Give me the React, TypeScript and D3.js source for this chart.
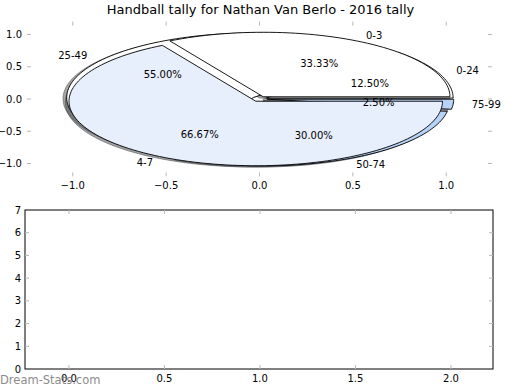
import React from "react";
import * as d3 from "d3";

// outer pie (score bands) and inner pie (goal bands)
const bandLabels = ["0-24", "25-49", "50-74", "75-99"];
const bandCounts = [5, 22, 12, 1];
const bandColors = ["#ffffff", "#ffffff", "#b7d3f7", "#b7d3f7"];

const goalLabels = ["0-3", "4-7"];
const goalCounts = [1, 2];
const goalColors = ["#ffffff", "#e8effc"];

const pieTicks = [-1.0, -0.5, 0.0, 0.5, 1.0];
const barXTicks = [0.0, 0.5, 1.0, 1.5, 2.0];
const barYTicks = [0, 1, 2, 3, 4, 5, 6, 7];

const W = 520;
const H = 390;
const FONT = "DejaVu Sans, sans-serif";
const EXPLODE = 0.04;
const TICK = "#b8b8b8";

const px = d3.scaleLinear().domain([-1.245, 1.245]).range([27, 492]);
const py = d3.scaleLinear().domain([-1.2, 1.2]).range([176.4, 21.6]);

const bx = d3.scaleLinear().domain([-0.23, 2.22]).range([25, 493]);
const by = d3.scaleLinear().domain([0, 7]).range([369, 210]);

const line = d3
  .line<[number, number]>()
  .x((d) => px(d[0]))
  .y((d) => py(d[1]));

type Slice = {
  label: string;
  color: string;
  a0: number;
  a1: number;
  cx: number;
  cy: number;
  pct: number;
};

function layout(labels: string[], counts: number[], colors: string[]): Slice[] {
  // d3.pie angles read here as counter-clockwise from +x, like matplotlib
  const total = d3.sum(counts);
  const arcs = d3
    .pie<number>()
    .sort(null)
    .startAngle(0)
    .endAngle(2 * Math.PI)(counts);
  return arcs.map((a, i) => {
    const mid = (a.startAngle + a.endAngle) / 2;
    return {
      label: labels[i],
      color: colors[i],
      a0: a.startAngle,
      a1: a.endAngle,
      cx: EXPLODE * Math.cos(mid),
      cy: EXPLODE * Math.sin(mid),
      pct: (counts[i] / total) * 100,
    };
  });
}

function wedgePath(s: Slice, ox = 0, oy = 0) {
  const n = Math.max(8, Math.ceil(((s.a1 - s.a0) / (2 * Math.PI)) * 180));
  const pts: [number, number][] = [[s.cx + ox, s.cy + oy]];
  for (let i = 0; i <= n; i++) {
    const t = s.a0 + ((s.a1 - s.a0) * i) / n;
    pts.push([s.cx + ox + Math.cos(t), s.cy + oy + Math.sin(t)]);
  }
  return line(pts) + "Z";
}

function shade(c: string) {
  const rgb = d3.rgb(c);
  return d3.rgb(rgb.r * 0.3, rgb.g * 0.3, rgb.b * 0.3).formatHex();
}

export default function App() {
  const outer = layout(bandLabels, bandCounts, bandColors);
  const inner = layout(goalLabels, goalCounts, goalColors);
  const all = [...outer, ...inner];

  return (
    <svg
      width={W}
      height={H}
      style={{ position: "absolute", left: 0, top: 0, background: "#fff" }}
      fontFamily={FONT}
    >
      <text x={260.5} y={14} fontSize={13} textAnchor="middle">
        Handball tally for Nathan Van Berlo - 2016 tally
      </text>

      {/* top axes ticks (no frame) */}
      {pieTicks.map((t) => (
        <g key={"px" + t}>
          <line x1={px(t)} x2={px(t)} y1={176.4} y2={172.4} stroke={TICK} />
          <line x1={px(t)} x2={px(t)} y1={21.6} y2={25.6} stroke={TICK} />
          <text x={px(t)} y={185} dy="0.35em" fontSize={10} textAnchor="middle">
            {d3.format(".1f")(t).replace("-", "\u2212")}
          </text>
        </g>
      ))}
      {pieTicks.map((t) => (
        <g key={"py" + t}>
          <line x1={27} x2={31} y1={py(t)} y2={py(t)} stroke={TICK} />
          <line x1={492} x2={488} y1={py(t)} y2={py(t)} stroke={TICK} />
          <text x={22} y={py(t)} dy="0.35em" fontSize={10} textAnchor="end">
            {d3.format(".1f")(t).replace("-", "\u2212")}
          </text>
        </g>
      ))}

      {/* shadows under every wedge */}
      {all.map((s, i) => (
        <path
          key={"sh" + i}
          d={wedgePath(s, -0.02, -0.02)}
          fill={shade(s.color)}
          stroke={shade(s.color)}
          fillOpacity={0.5}
          strokeOpacity={0.5}
        />
      ))}
      {all.map((s, i) => (
        <path key={"w" + i} d={wedgePath(s)} fill={s.color} stroke="#000" strokeWidth={0.9} />
      ))}

      {all.map((s, i) => {
        const mid = (s.a0 + s.a1) / 2;
        const lx = s.cx + 1.1 * Math.cos(mid);
        const ly = s.cy + 1.1 * Math.sin(mid);
        const tx = s.cx + 0.6 * Math.cos(mid);
        const ty = s.cy + 0.6 * Math.sin(mid);
        return (
          <g key={"t" + i} fontSize={10}>
            <text x={px(lx)} y={py(ly)} dy="0.35em" textAnchor={lx > 0 ? "start" : "end"}>
              {s.label}
            </text>
            <text x={px(tx)} y={py(ty)} dy="0.35em" textAnchor="middle">
              {s.pct.toFixed(2)}%
            </text>
          </g>
        );
      })}

      {/* bottom axes, empty */}
      <rect x={25} y={210} width={468} height={159} fill="#fff" stroke="#000" />
      {barXTicks.map((t) => (
        <g key={"bx" + t}>
          <line x1={bx(t)} x2={bx(t)} y1={369} y2={365} stroke={TICK} />
          <line x1={bx(t)} x2={bx(t)} y1={210} y2={214} stroke={TICK} />
          <text x={bx(t)} y={378} dy="0.35em" fontSize={10} textAnchor="middle">
            {d3.format(".1f")(t)}
          </text>
        </g>
      ))}
      {barYTicks.map((t) => (
        <g key={"by" + t}>
          {t > 0 && t < 7 && (
            <>
              <line x1={25} x2={29} y1={by(t)} y2={by(t)} stroke={TICK} />
              <line x1={493} x2={489} y1={by(t)} y2={by(t)} stroke={TICK} />
            </>
          )}
          <text x={21} y={by(t)} dy="0.35em" fontSize={10} textAnchor="end">
            {t}
          </text>
        </g>
      ))}

      <text x={0} y={380} dy="0.35em" fontSize={11.5} fill="#8c8c8c">
        Dream-Stats.com
      </text>
    </svg>
  );
}
